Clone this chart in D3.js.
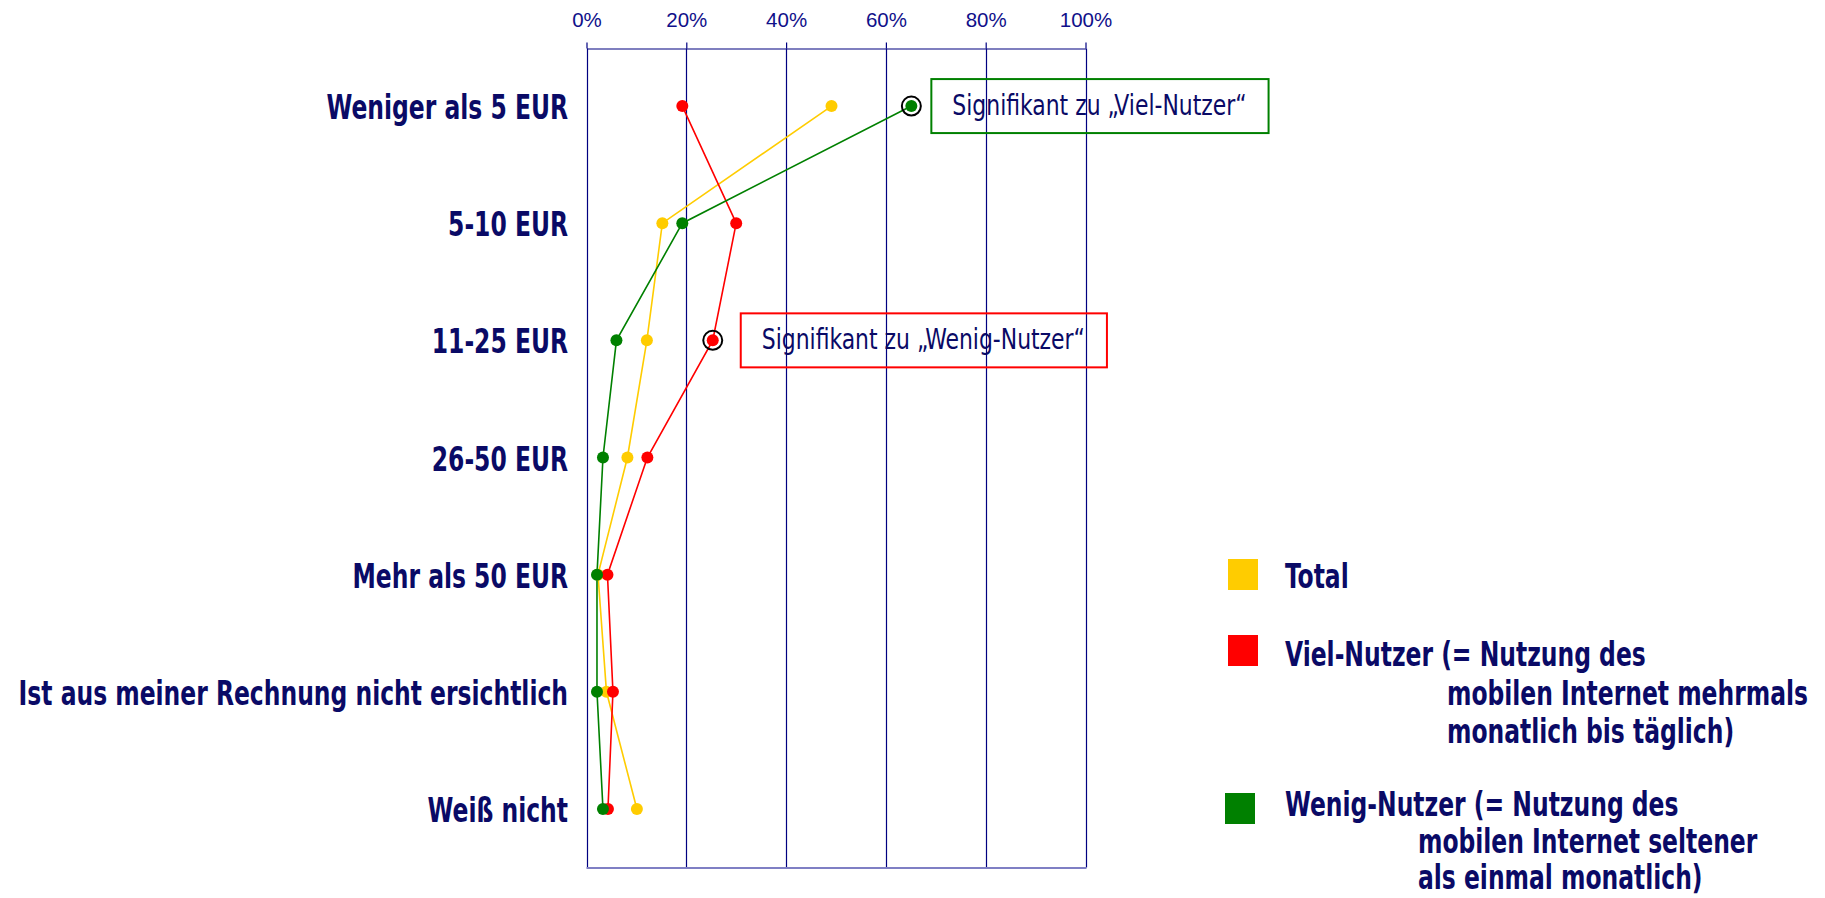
<!DOCTYPE html>
<html>
<head>
<meta charset="utf-8">
<script src="https://cdn.jsdelivr.net/npm/d3@7"></script>
<style>
  body { margin: 0; background: #fff; }
  svg { display: block; }
  .lbl { font-family: "DejaVu Sans Condensed", "Liberation Sans Narrow", sans-serif; font-weight: bold; fill: #0a0a66; }
  .note { font-family: "DejaVu Sans Condensed", "Liberation Sans Narrow", sans-serif; fill: #0a0a66; }
</style>
</head>
<body>
<script>
var W = 1825, H = 898;
var plot = {left: 586.5, right: 1085.5, top: 48.5, bottom: 867.5};
var squeeze = 0.79;      // horizontal squeeze to mimic the condensed face
var noteSqueeze = 0.87;

var categories = ["Weniger als 5 EUR", "5-10 EUR", "11-25 EUR", "26-50 EUR",
    "Mehr als 50 EUR", "Ist aus meiner Rechnung nicht ersichtlich", "Weiß nicht"];
var ticks = [0, 0.2, 0.4, 0.6, 0.8, 1];

// shares
var total = [0.491, 0.152, 0.121, 0.082, 0.023, 0.040, 0.101];
var viel  = [0.192, 0.300, 0.253, 0.122, 0.042, 0.053, 0.043];
var wenig = [0.651, 0.192, 0.060, 0.033, 0.021, 0.021, 0.033];

var seriesNames = ["Total", "Viel-Nutzer", "Wenig-Nutzer"];
var seriesColors = ["#ffcc00", "#ff0000", "#008000"];
var seriesValues = [total, viel, wenig];

// significance notes: series index, category index, text
var notes = [
    {s: 2, c: 0, text: "Signifikant zu \u201EViel-Nutzer\u201C", color: "#008000", gap: 20},
    {s: 1, c: 2, text: "Signifikant zu \u201EWenig-Nutzer\u201C", color: "#ff0000", gap: 28}
];

var legendLines = [
    ["Total"],
    ["Viel-Nutzer (= Nutzung des", "mobilen Internet mehrmals", "monatlich bis täglich)"],
    ["Wenig-Nutzer (= Nutzung des", "mobilen Internet seltener", "als einmal monatlich)"]
];

var svg = d3.select("body").append("svg")
    .attr("width", W)
    .attr("height", H);

var x = d3.scaleLinear().domain([0, 1]).range([plot.left, plot.right]);
var y = d3.scaleBand().domain(categories).range([plot.top - 1, plot.bottom]);
var cy = function(c) { return y(c) + y.bandwidth() / 2; };

function squeezedText(g, tx, ty, sx, txt, cls, size) {
    return g.append("text")
        .attr("class", cls)
        .attr("transform", "translate(" + tx + "," + ty + ") scale(" + sx + ",1)")
        .style("font-size", size)
        .text(txt);
}

// grid lines
svg.append("g")
    .selectAll("line")
    .data(ticks)
    .enter().append("line")
    .attr("x1", function(d) { return Math.round(x(d)) + 0.5; })
    .attr("x2", function(d) { return Math.round(x(d)) + 0.5; })
    .attr("y1", plot.top)
    .attr("y2", plot.bottom)
    .attr("stroke", "#000080")
    .attr("stroke-width", 1.2);

svg.append("line")
    .attr("x1", plot.left).attr("x2", plot.right + 1)
    .attr("y1", plot.bottom + 0.5).attr("y2", plot.bottom + 0.5)
    .attr("stroke", "#7f7fc4")
    .attr("stroke-width", 2);

// top axis
var axis = svg.append("g")
    .attr("transform", "translate(0," + plot.top + ")")
    .call(d3.axisTop(x).tickValues(ticks).tickFormat(d3.format(".0%"))
        .tickSizeInner(6).tickSizeOuter(0).tickPadding(16));
axis.select(".domain").attr("stroke", "#000080").attr("stroke-width", 1.2);
axis.selectAll(".tick line").attr("stroke", "#000080").attr("stroke-width", 1.2);
axis.selectAll(".tick text")
    .attr("fill", "#10108a")
    .style("font-family", "Liberation Sans, Arial, sans-serif")
    .style("font-size", "20.5px");

// category labels
var labels = svg.append("g").attr("text-anchor", "end");
categories.forEach(function(c) {
    squeezedText(labels, 568, cy(c) + 13, squeeze, c, "lbl", "33px");
});

// series lines
var line = d3.line()
    .x(function(d) { return x(d.v); })
    .y(function(d) { return cy(d.c); });

var series = seriesValues.map(function(vals, i) {
    return {color: seriesColors[i], pts: vals.map(function(v, j) { return {v: v, c: categories[j]}; })};
});

svg.append("g")
    .selectAll("path")
    .data(series)
    .enter().append("path")
    .attr("d", function(d) { return line(d.pts); })
    .attr("fill", "none")
    .attr("stroke", function(d) { return d.color; })
    .attr("stroke-width", 1.6);

series.forEach(function(s) {
    svg.append("g")
        .selectAll("circle")
        .data(s.pts)
        .enter().append("circle")
        .attr("cx", function(d) { return x(d.v); })
        .attr("cy", function(d) { return cy(d.c); })
        .attr("r", 6)
        .attr("fill", s.color);
});

// significance rings and boxes
notes.forEach(function(n) {
    var px = x(seriesValues[n.s][n.c]), py = cy(categories[n.c]);
    svg.append("circle")
        .attr("cx", px).attr("cy", py)
        .attr("r", 9.5)
        .attr("fill", "none")
        .attr("stroke", "#000")
        .attr("stroke-width", 2);
    var t = squeezedText(svg, px + n.gap + 21, py + 9, noteSqueeze, n.text, "note", "28px");
    var w = t.node().getComputedTextLength() * noteSqueeze;
    svg.insert("rect", "text.note")
        .attr("x", px + n.gap)
        .attr("y", py - 27)
        .attr("width", w + 43)
        .attr("height", 54)
        .attr("fill", "none")
        .attr("stroke", n.color)
        .attr("stroke-width", 2);
});

// legend
var legendSqX = [1228, 1228, 1225];
var legendSqY = [559, 635, 793];
var legendY = [588, 666, 816];
var legendStep = [38.5, 38.5, 36.5];
var indent = [0, 162, 133];
legendLines.forEach(function(lines, i) {
    svg.append("rect")
        .attr("x", legendSqX[i])
        .attr("y", legendSqY[i])
        .attr("width", 30)
        .attr("height", 31)
        .attr("fill", seriesColors[i]);
    lines.forEach(function(l, k) {
        squeezedText(svg, 1285 + (k > 0 ? indent[i] : 0), legendY[i] + k * legendStep[i], squeeze, l, "lbl", "33px");
    });
});
</script>
</body>
</html>
